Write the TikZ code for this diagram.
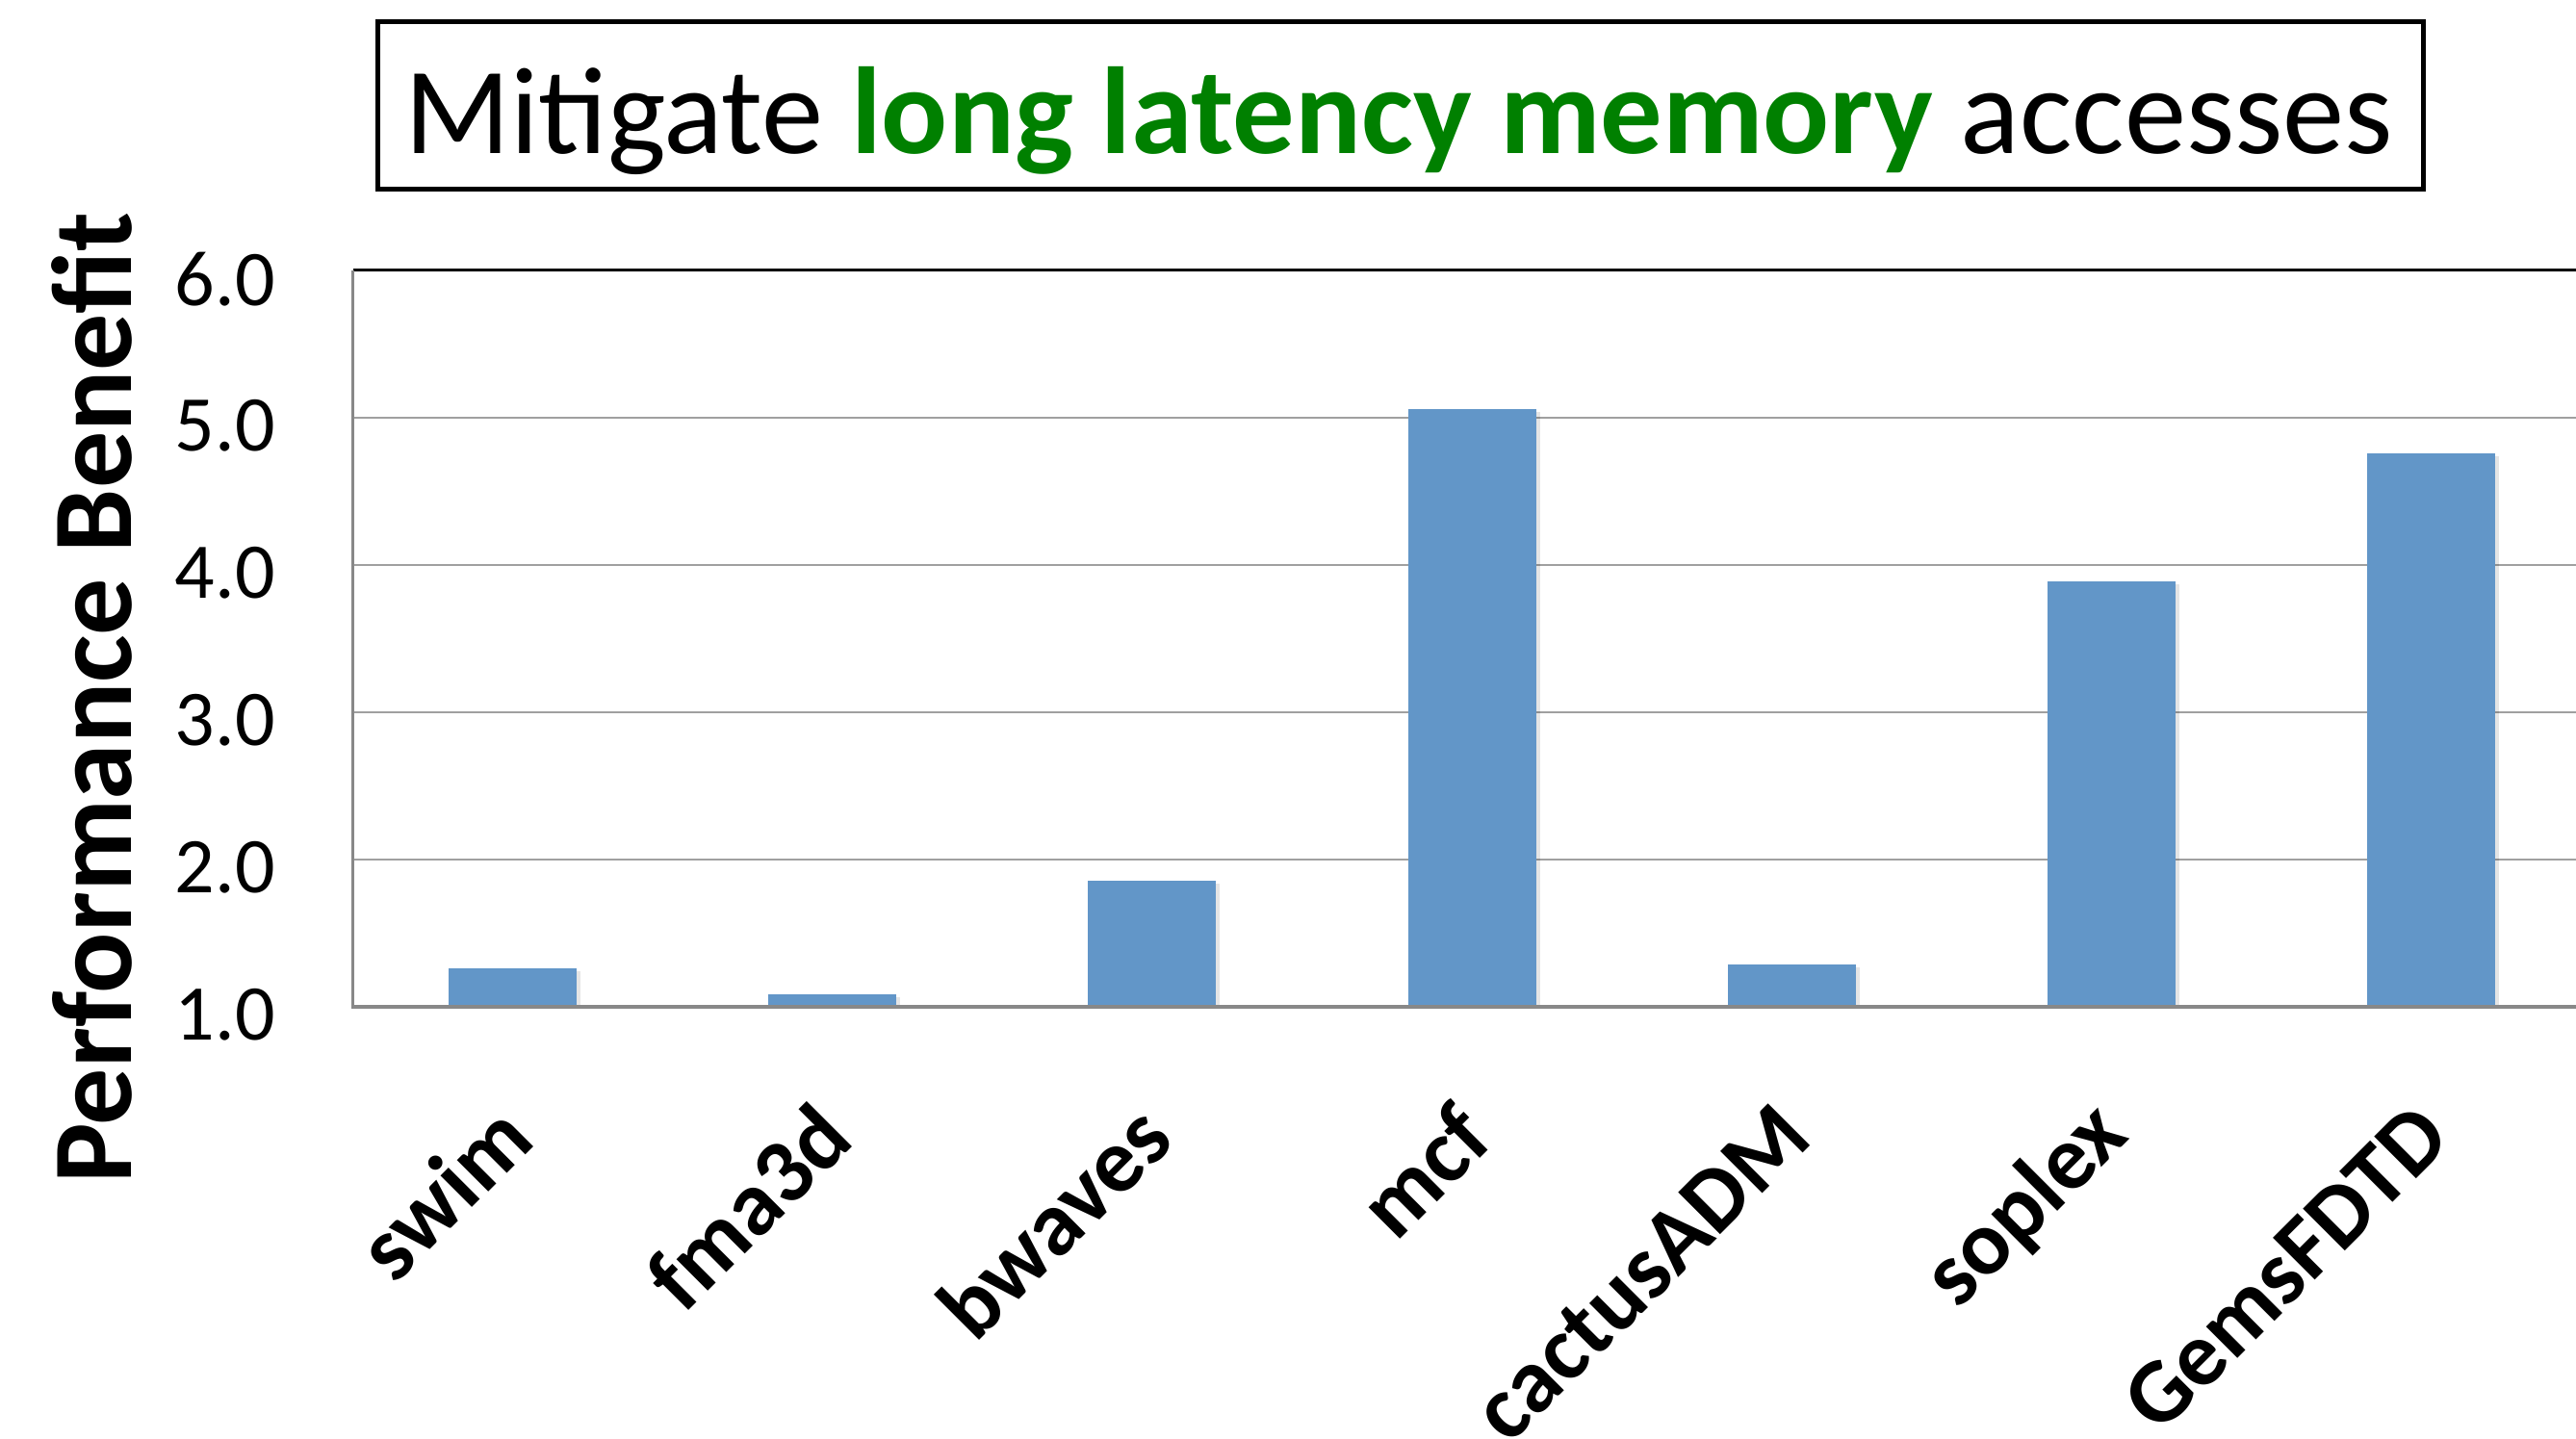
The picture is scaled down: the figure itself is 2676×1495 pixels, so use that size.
\documentclass[tikz,border=0pt]{standalone}
\usepackage{fontspec}
\setmainfont{Carlito}
\definecolor{titlegreen}{RGB}{0,128,0}
\definecolor{barblue}{RGB}{98,150,200}
\definecolor{gridgray}{RGB}{160,160,160}
\definecolor{axisgray}{RGB}{136,136,136}
\tikzset{
  bar/.style={fill=barblue, draw=none},
  barshadow/.style={fill=black, opacity=0.10, draw=none},
  gridline/.style={draw=gridgray, line width=2.2},
  ticklabel/.style={anchor=east, inner sep=0, font=\fontsize{82}{98}\selectfont},
  catlabel/.style={anchor=east, rotate=45, inner sep=0, font=\fontsize{95}{114}\selectfont\bfseries},
}
\begin{document}
\begin{tikzpicture}[x=1pt,y=-1pt]
\useasboundingbox (0,0) rectangle (2676,1495);
% title box
\node[draw, line width=4.5, minimum width=2125, minimum height=174, inner sep=0] (titlebox) at (1455,109.4) {};
\node[anchor=base, inner sep=0, font=\fontsize{128.5}{154}\selectfont] (title) at (1453,160)
  {Mitigate \textcolor{titlegreen}{\bfseries long latency memory} accesses};
% grid lines
\foreach \v in {2,3,4,5} {
  \draw[gridline] (366.5,{1045.7-153*(\v-1)}) -- (2676,{1045.7-153*(\v-1)});
}
\draw[black, line width=3] (366.5,280.7) -- (2676,280.7);
% bars
\foreach \i/\v in {0/1.26, 1/1.085, 2/1.856, 3/5.06, 4/1.285, 5/3.89, 6/4.755} {
  \pgfmathsetmacro{\cx}{532.5+332.2*\i}
  \pgfmathsetmacro{\ty}{1045.7-153*(\v-1)}
  \fill[barshadow] ({\cx-66.5+3},{\ty+3}) rectangle ({\cx+66.5+4},1045.7);
  \fill[bar] ({\cx-66.5},\ty) rectangle ({\cx+66.5},1045.7);
}
% axes
\draw[axisgray, line width=2.5] (366.5,280.7) -- (366.5,1045.7);
\draw[axisgray, line width=4] (365,1045.7) -- (2676,1045.7);
% tick labels
\foreach \v/\t in {1/1.0, 2/2.0, 3/3.0, 4/4.0, 5/5.0, 6/6.0} {
  \node[ticklabel] (tick\v) at (286,{1045.7-153*(\v-1)+9}) {\t};
}
% y axis title
\node[rotate=90, anchor=base, inner sep=0, font=\fontsize{118}{142}\selectfont\bfseries] (ytitle) at (136,725) {Performance Benefit};
% category labels
\foreach \i/\n in {0/swim, 1/fma3d, 2/bwaves, 3/mcf, 4/cactusADM, 5/soplex, 6/GemsFDTD} {
  \pgfmathsetmacro{\cx}{532.5+332.2*\i}
  \node[catlabel] (cat\i) at ({\cx+2},1164) {\n};
}
\end{tikzpicture}
\end{document}
